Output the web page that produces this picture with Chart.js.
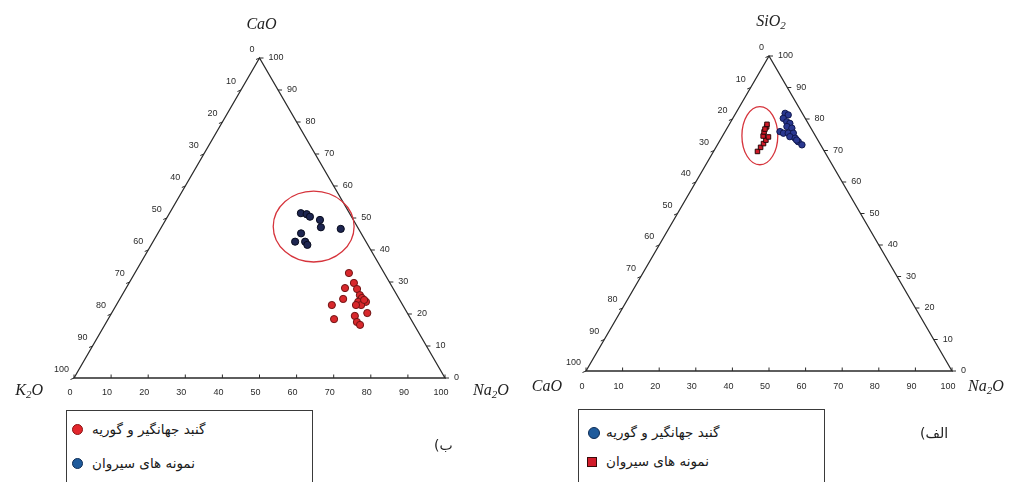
<!DOCTYPE html>
<html>
<head>
<meta charset="utf-8">
<script src="https://cdn.jsdelivr.net/npm/chart.js@4.4.1/dist/chart.umd.min.js"></script>
<style>
  html, body { margin: 0; padding: 0; background: #fff; width: 1012px; height: 482px; overflow: hidden; }
  .pane { position: absolute; top: 0; height: 482px; }
  .leg { position: absolute; border: 1.5px solid #3a3a3a; background: #fff; }
  .mk { position: absolute; box-sizing: border-box; }
  .txt { position: absolute; font-family: "DejaVu Sans", sans-serif; font-size: 13.5px; color: #1a1a1a; white-space: nowrap; line-height: 18px; }
  .tag { position: absolute; font-family: "DejaVu Sans", sans-serif; font-size: 14px; color: #222; white-space: nowrap; }
  .tag span { display: inline-block; }
</style>
</head>
<body>
<div class="pane" style="left:0;width:540px"><canvas id="chartB"></canvas></div>
<div class="pane" style="left:506px;width:506px"><canvas id="chartA"></canvas></div>

<div class="leg" style="left:66px;top:410px;width:245px;height:90px"></div>
<div class="mk" style="left:72px;top:424px;width:11px;height:11px;border-radius:50%;background:#e3262c;border:1px solid #8a1212"></div>
<div class="txt" dir="rtl" style="left:92px;top:420px">گنبد جهانگیر و گوریه</div>
<div class="mk" style="left:72px;top:458px;width:11px;height:11px;border-radius:50%;background:#1f5b9c;border:1px solid #0d2c55"></div>
<div class="txt" dir="rtl" style="left:92px;top:454px">نمونه های سیروان</div>
<div class="tag" style="left:434px;top:437px"><span>(</span><span>ب</span></div>

<div class="leg" style="left:578px;top:409px;width:245px;height:90px"></div>
<div class="mk" style="left:588px;top:427px;width:12px;height:12px;border-radius:50%;background:#1f5b9c;border:1px solid #0d2c55"></div>
<div class="txt" dir="rtl" style="left:606px;top:423px">گنبد جهانگیر و گوریه</div>
<div class="mk" style="left:587px;top:457px;width:10px;height:10px;background:#d21c2a;border:1.5px solid #3a0a0a"></div>
<div class="txt" dir="rtl" style="left:606px;top:452px">نمونه های سیروان</div>
<div class="tag" style="left:920px;top:425px"><span>(</span><span>الف</span></div>

<script>
// tick labels shared by all three sides
var tickValues = [0, 10, 20, 30, 40, 50, 60, 70, 80, 90, 100];

// chart (ب): CaO (top) - K2O (left) - Na2O (right), values in %
var gonbadCaO_B = [32.8, 29.7, 28.1, 27.8, 25.9, 24.7, 25.0, 23.8, 23.8, 22.8, 24.4, 22.8, 22.8, 20.3, 18.4, 19.4, 17.5, 16.6];
var gonbadNa2O_B = [57.7, 60.6, 59.0, 62.4, 64.1, 60.2, 65.1, 64.7, 66.8, 66.0, 66.0, 58.1, 64.6, 68.9, 60.9, 66.0, 67.5, 68.8];
var sirvanCaO_B = [51.5, 51.2, 50.4, 49.4, 47.1, 46.6, 45.2, 42.6, 42.6, 41.6];
var sirvanNa2O_B = [35.4, 37.1, 38.4, 41.6, 43.0, 48.6, 38.6, 38.3, 41.0, 42.1];

// chart (الف): SiO2 (top) - CaO (left) - Na2O (right), values in %
var gonbadSiO2_A = [81.8, 81.3, 80.2, 79.1, 78.6, 77.6, 77.1, 76.0, 75.5, 75.5, 75.5, 74.4, 73.9, 72.8, 71.8, 73.3];
var gonbadNa2O_A = [13.5, 14.6, 13.8, 15.3, 16.4, 16.1, 17.7, 15.0, 16.2, 17.5, 18.9, 18.5, 20.2, 21.6, 23.1, 20.9];
var sirvanSiO2_A = [69.7, 71.0, 72.2, 73.3, 74.3, 74.6, 75.9, 77.5, 78.3, 76.8];
var sirvanNa2O_A = [12.0, 12.2, 12.4, 12.5, 12.7, 11.1, 10.7, 10.6, 10.3, 10.5];

var H = Math.sqrt(3) / 2;

function toXY(top, right) {
  return top.map(function (t, i) {
    return { x: right[i] + t / 2, y: t * H };
  });
}

function drawChem(ctx, parts, x, y, align) {
  var big = 'italic 16px "Liberation Serif", serif', small = 'italic 11px "Liberation Serif", serif';
  var w = 0;
  parts.forEach(function (p) {
    ctx.font = p[1] ? small : big;
    w += ctx.measureText(p[0]).width;
  });
  var cx = align === 'right' ? x - w : align === 'center' ? x - w / 2 : x;
  ctx.textAlign = 'left';
  ctx.textBaseline = 'middle';
  parts.forEach(function (p) {
    ctx.font = p[1] ? small : big;
    ctx.fillText(p[0], cx, y + (p[1] ? 4 : 0));
    cx += ctx.measureText(p[0]).width;
  });
}

var ternaryFrame = {
  id: 'ternaryFrame',
  beforeDatasetsDraw: function (chart, args, o) {
    var ctx = chart.ctx, xs = chart.scales.x, ys = chart.scales.y;
    function T(right, top) {
      return { x: xs.getPixelForValue(right + top / 2), y: ys.getPixelForValue(top * H) };
    }
    var A = T(0, 100), L = T(0, 0), R = T(100, 0);
    ctx.save();
    ctx.strokeStyle = '#2a2a2a';
    ctx.lineWidth = 1.3;
    ctx.beginPath();
    ctx.moveTo(A.x, A.y); ctx.lineTo(L.x, L.y); ctx.lineTo(R.x, R.y); ctx.closePath();
    ctx.stroke();

    ctx.lineWidth = 1;
    ctx.fillStyle = '#2a2a2a';
    ctx.font = '9px "Liberation Sans", Arial, sans-serif';
    ctx.textBaseline = 'middle';
    tickValues.forEach(function (v) {
      var b = T(v, 0), r = T(100 - v, v), l = T(0, 100 - v);
      ctx.beginPath();
      ctx.moveTo(b.x, b.y); ctx.lineTo(b.x, b.y - 3.5);
      ctx.moveTo(r.x, r.y); ctx.lineTo(r.x + 4, r.y);
      ctx.moveTo(l.x, l.y); ctx.lineTo(l.x - 3.5, l.y + 1.5);
      ctx.stroke();
      ctx.textAlign = 'center';
      ctx.fillText(String(v), b.x - 4, b.y + o.bottomGap);
      ctx.textAlign = 'left';
      ctx.fillText(String(v), r.x + 9, r.y);
      ctx.textAlign = 'right';
      ctx.fillText(String(v), l.x - 5, l.y - 8);
    });

    // circled group
    var e = o.ellipse;
    var c = { x: xs.getPixelForValue(e.cx), y: ys.getPixelForValue(e.cy) };
    var rx = Math.abs(xs.getPixelForValue(e.cx + e.rx) - c.x);
    var ry = Math.abs(ys.getPixelForValue(e.cy + e.ry) - c.y);
    ctx.strokeStyle = '#d6343c';
    ctx.lineWidth = 1.3;
    ctx.beginPath();
    ctx.ellipse(c.x, c.y, rx, ry, 0, 0, Math.PI * 2);
    ctx.stroke();

    ctx.fillStyle = '#222';
    drawChem(ctx, o.top, A.x + 2, A.y - o.topGap, 'center');
    drawChem(ctx, o.left, L.x + o.leftDx, L.y + o.leftDy, 'right');
    drawChem(ctx, o.right, R.x + o.rightDx, R.y + o.rightDy, 'left');
    ctx.restore();
  }
};

function makeChart(id, pad, datasets, frame) {
  return new Chart(document.getElementById(id), {
    type: 'scatter',
    data: { datasets: datasets },
    options: {
      responsive: true,
      maintainAspectRatio: false,
      animation: false,
      layout: { padding: pad },
      plugins: { legend: { display: false }, tooltip: { enabled: false }, ternaryFrame: frame },
      scales: {
        x: { display: false, min: 0, max: 100 },
        y: { display: false, min: 0, max: 100 * H }
      }
    },
    plugins: [ternaryFrame]
  });
}

makeChart('chartB', { left: 74, top: 58, right: 95, bottom: 104 }, [
  {
    label: 'گنبد جهانگیر و گوریه',
    data: toXY(gonbadCaO_B, gonbadNa2O_B),
    backgroundColor: '#d8282c', borderColor: '#6e1414', borderWidth: 1, pointRadius: 3.6
  },
  {
    label: 'نمونه های سیروان',
    data: toXY(sirvanCaO_B, sirvanNa2O_B),
    backgroundColor: '#1d2550', borderColor: '#070a1c', borderWidth: 1, pointRadius: 3.6
  }
], {
  top: [['CaO', 0]], left: [['K', 0], ['2', 1], ['O', 0]], right: [['Na', 0], ['2', 1], ['O', 0]],
  topGap: 33, leftDx: -31, leftDy: 13, rightDx: 28, rightDy: 13, bottomGap: 15,
  ellipse: { cx: 64.6, cy: 41.0, rx: 10.9, ry: 9.6 }
});

makeChart('chartA', { left: 80, top: 56, right: 60, bottom: 111 }, [
  {
    label: 'نمونه های سیروان',
    data: toXY(sirvanSiO2_A, sirvanNa2O_A),
    pointStyle: 'rect',
    backgroundColor: '#d01a28', borderColor: '#2a0808', borderWidth: 1, pointRadius: 3.2
  },
  {
    label: 'گنبد جهانگیر و گوریه',
    data: toXY(gonbadSiO2_A, gonbadNa2O_A),
    backgroundColor: '#2a3890', borderColor: '#10184e', borderWidth: 1, pointRadius: 3.2
  }
], {
  top: [['SiO', 0], ['2', 1]], left: [['CaO', 0]], right: [['Na', 0], ['2', 1], ['O', 0]],
  topGap: 34, leftDx: -24, leftDy: 16, rightDx: 16, rightDy: 16, bottomGap: 16,
  ellipse: { cx: 47.5, cy: 64.7, rx: 4.9, ry: 8.0 }
});
</script>
</body>
</html>
